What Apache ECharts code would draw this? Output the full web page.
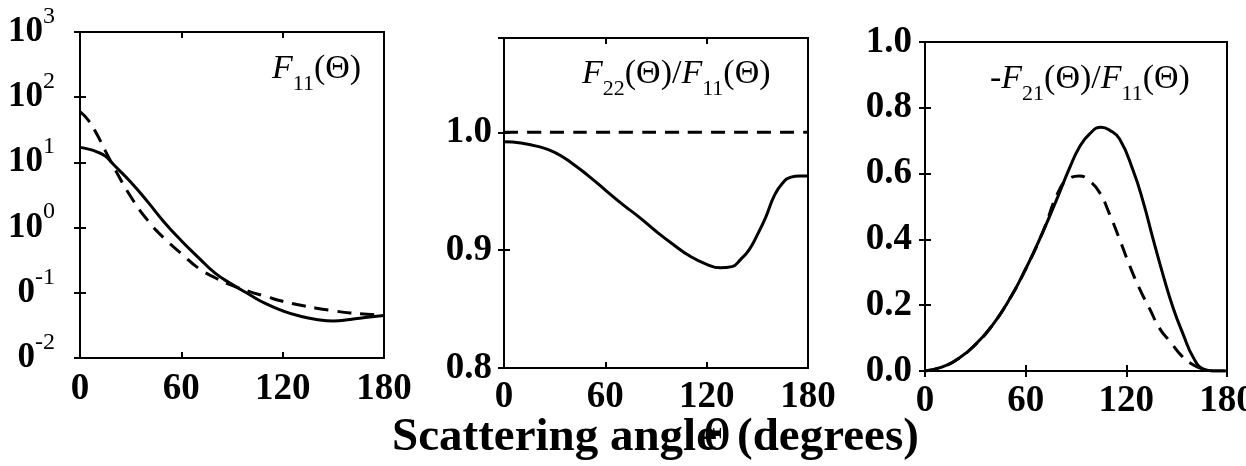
<!DOCTYPE html>
<html>
<head>
<meta charset="utf-8">
<script src="https://cdn.jsdelivr.net/npm/echarts@6/dist/echarts.min.js"></script>
<style>
html, body { margin: 0; padding: 0; background: #fff; }
#chart { width: 1246px; height: 466px; }
</style>
</head>
<body>
<div id="chart"></div>
<script>
// values (scattering angle in degrees)
var f11Angles = [0, 5, 10, 15, 20, 30, 40, 50, 60, 70, 80, 90, 100, 110, 120, 130, 140, 150, 160, 170, 180];
var f11Solid = [17, 16, 14.5, 12.5, 9.2, 5.0, 2.5, 1.2, 0.63, 0.35, 0.2, 0.135, 0.095, 0.068, 0.053, 0.044, 0.039, 0.037, 0.039, 0.042, 0.045];
var f11Dashed = [60, 44, 27, 15, 8.5, 3.0, 1.3, 0.68, 0.40, 0.24, 0.17, 0.13, 0.105, 0.088, 0.074, 0.065, 0.058, 0.053, 0.049, 0.047, 0.045];

var f22Angles = [0, 10, 20, 30, 40, 50, 60, 70, 80, 90, 100, 110, 120, 128, 135, 140, 145, 150, 155, 160, 165, 170, 175, 180];
var f22Solid = [0.992, 0.991, 0.988, 0.983, 0.974, 0.963, 0.951, 0.939, 0.928, 0.916, 0.905, 0.895, 0.888, 0.885, 0.886, 0.892, 0.900, 0.913, 0.928, 0.946, 0.957, 0.962, 0.963, 0.963];
var f22Dashed = [1, 1, 1, 1, 1, 1, 1, 1, 1, 1, 1, 1, 1, 1, 1, 1, 1, 1, 1, 1, 1, 1, 1, 1];

var f21SolidAngles = [0, 10, 20, 30, 40, 50, 60, 70, 80, 86, 92, 98, 105, 110, 116, 124, 130, 136, 142, 148, 154, 160, 166, 172, 180];
var f21Solid = [0, 0.012, 0.038, 0.08, 0.138, 0.215, 0.31, 0.42, 0.54, 0.615, 0.68, 0.72, 0.741, 0.732, 0.705, 0.61, 0.515, 0.40, 0.29, 0.19, 0.11, 0.04, 0.006, 0, 0];
var f21DashedAngles = [0, 10, 20, 30, 40, 50, 60, 70, 80, 86, 92, 98, 104, 110, 116, 122, 128, 134, 140, 146, 153, 160, 166, 172, 180];
var f21Dashed = [0, 0.012, 0.038, 0.08, 0.138, 0.215, 0.31, 0.42, 0.55, 0.585, 0.593, 0.578, 0.543, 0.477, 0.40, 0.32, 0.249, 0.188, 0.128, 0.09, 0.046, 0.018, 0.006, 0, 0];

var serif = "'Liberation Serif', 'Times New Roman', serif";

function pairs(xs, ys) {
  return xs.map(function (x, i) { return [x, ys[i]]; });
}

var tickStyle = { inside: true, length: 6, lineStyle: { color: '#000', width: 2 } };

function angleAxis(g, pos, margin) {
  return {
    type: 'value', gridIndex: g, position: pos, min: 0, max: 180, interval: 60,
    axisLine: { show: false }, splitLine: { show: false }, axisTick: tickStyle,
    axisLabel: { show: pos === 'bottom', color: '#000', fontFamily: serif, fontWeight: 'bold', fontSize: 37, margin: margin }
  };
}

function valueAxis(g, pos, min, max, interval, margin) {
  return {
    type: 'value', gridIndex: g, position: pos, min: min, max: max, interval: interval,
    axisLine: { show: false }, splitLine: { show: false }, axisTick: tickStyle,
    axisLabel: {
      show: pos === 'left', color: '#000', fontFamily: serif, fontWeight: 'bold', fontSize: 37, margin: margin,
      showMaxLabel: max % interval < 1e-9 || interval - (max % interval) < 1e-9,
      formatter: function (v) {
        var k = v / interval;
        return Math.abs(k - Math.round(k)) < 1e-6 ? v.toFixed(1) : '';
      }
    }
  };
}

function logAxis(g, pos) {
  return {
    type: 'log', logBase: 10, gridIndex: g, position: pos, min: 0.01, max: 1000, splitNumber: 5,
    axisLine: { show: false }, splitLine: { show: false }, axisTick: tickStyle,
    axisLabel: {
      show: pos === 'left', color: '#000', margin: 25,
      formatter: function (v) {
        var e = Math.round(Math.log(v) / Math.LN10);
        return (e < 0 ? '{m|0}' : '{m|10}') + '{s|' + e + '}';
      },
      rich: {
        m: { fontFamily: serif, fontWeight: 'bold', fontSize: 35, padding: [10, 0, 10, 0], color: '#000' },
        s: { fontFamily: serif, fontSize: 24, verticalAlign: 'top', color: '#000' }
      }
    }
  };
}

function curve(xi, data, dashed) {
  return {
    type: 'line', xAxisIndex: xi, yAxisIndex: xi, data: data, showSymbol: false, smooth: true, silent: true,
    lineStyle: { color: '#000', width: 3, type: dashed ? [14, 9] : 'solid' }
  };
}

var titleRich = {
  f: { fontFamily: serif, fontStyle: 'italic', fontSize: 34, verticalAlign: 'top', color: '#000' },
  p: { fontFamily: serif, fontSize: 34, verticalAlign: 'top', color: '#000' },
  s: { fontFamily: serif, fontSize: 22, verticalAlign: 'top', padding: [21, 0, 0, 0], color: '#000' }
};

function panelTitle(x, y, text) {
  return { type: 'text', x: x, y: y, silent: true, style: { text: text, rich: titleRich, verticalAlign: 'top' } };
}

function bigText(x, y, text, extra) {
  return Object.assign({
    type: 'text', x: x, y: y, silent: true,
    style: { text: text, fontFamily: serif, fontWeight: 'bold', fontSize: 47, fill: '#000', verticalAlign: 'middle' }
  }, extra || {});
}

var chart = echarts.init(document.getElementById('chart'));
var gridBox = { show: true, borderColor: '#000', borderWidth: 2, containLabel: false, outerBoundsMode: 'none' };

chart.setOption({
  backgroundColor: '#fff',
  animation: false,
  grid: [
    Object.assign({ left: 80, top: 32, width: 304, height: 326 }, gridBox),
    Object.assign({ left: 504, top: 38, width: 304, height: 330 }, gridBox),
    Object.assign({ left: 925, top: 42, width: 302, height: 329 }, gridBox)
  ],
  xAxis: [
    angleAxis(0, 'bottom', 13), angleAxis(0, 'top'),
    angleAxis(1, 'bottom', 11), angleAxis(1, 'top'),
    angleAxis(2, 'bottom', 12), angleAxis(2, 'top')
  ],
  yAxis: [
    logAxis(0, 'left'), logAxis(0, 'right'),
    valueAxis(1, 'left', 0.8, 1.08, 0.1, 12), valueAxis(1, 'right', 0.8, 1.08, 0.1, 12),
    valueAxis(2, 'left', 0, 1, 0.2, 13), valueAxis(2, 'right', 0, 1, 0.2, 13)
  ],
  series: [
    curve(0, pairs(f11Angles, f11Solid), false),
    curve(0, pairs(f11Angles, f11Dashed), true),
    curve(2, pairs(f22Angles, f22Solid), false),
    curve(2, pairs(f22Angles, f22Dashed), true),
    curve(4, pairs(f21SolidAngles, f21Solid), false),
    curve(4, pairs(f21DashedAngles, f21Dashed), true)
  ],
  graphic: [
    panelTitle(272, 52, '{f|F}{s|11}{p|(Θ)}'),
    panelTitle(582, 57, '{f|F}{s|22}{p|(Θ)/}{f|F}{s|11}{p|(Θ)}'),
    panelTitle(990, 62, '{p|-}{f|F}{s|21}{p|(Θ)/}{f|F}{s|11}{p|(Θ)}'),
    bigText(392, 438, 'Scattering angle'),
    bigText(737, 438, '(degrees)'),
    bigText(717, 438, 'Θ', { scaleX: 0.7, style: { text: 'Θ', fontFamily: serif, fontWeight: 'bold', fontSize: 48, fill: '#000', align: 'center', verticalAlign: 'middle' } })
  ]
});
</script>
</body>
</html>
